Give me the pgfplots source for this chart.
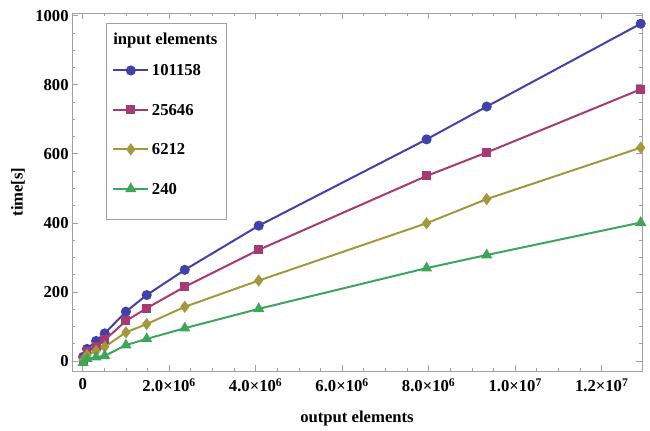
\documentclass[border=0pt]{standalone}
\usepackage{fontspec}
\setmainfont{Liberation Serif}
\usepackage{pgfplots}
\pgfplotsset{compat=1.18}

\definecolor{mBlue}{RGB}{64,66,170}
\definecolor{mMagenta}{RGB}{166,58,114}
\definecolor{mOlive}{RGB}{164,152,60}
\definecolor{mGreen}{RGB}{62,166,90}
\definecolor{frameGray}{RGB}{160,160,160}

\newcommand{\lblfont}{\fontsize{12.5}{14}\selectfont\bfseries}

\begin{document}
\begin{tikzpicture}
\path[use as bounding box] (-54pt,-44.25pt) rectangle (433.5pt,278.25pt);
\begin{axis}[
    scale only axis,
    width=427.5pt,
    height=268.5pt,
    xmin=-0.247e6, xmax=12.93e6,
    ymin=-29, ymax=1008,
    scaled x ticks=false,
    xtick={0,2e6,4e6,6e6,8e6,10e6,12e6},
    xticklabels={0, 2.0×10\textsuperscript{6}, 4.0×10\textsuperscript{6},
        6.0×10\textsuperscript{6}, 8.0×10\textsuperscript{6},
        1.0×10\textsuperscript{7}, 1.2×10\textsuperscript{7}},
    ytick={0,200,400,600,800,1000},
    minor x tick num=3,
    minor y tick num=3,
    tick align=inside,
    tick pos=both,
    major tick length=4.5pt,
    minor tick length=2.5pt,
    axis line style={frameGray, line width=0.6pt},
    every tick/.style={frameGray, line width=0.6pt},
    /pgf/number format/assume math mode=true,
    /pgf/number format/1000 sep={},
    tick label style={font=\lblfont},
    xticklabel style={yshift=-2pt},
    yticklabel style={xshift=1pt},
    xlabel={output elements},
    ylabel={time[s]},
    label style={font=\lblfont},
    xlabel style={at={(axis description cs:0.5,-0.1313)}, anchor=center},
    ylabel style={at={(axis description cs:-0.0947,0.5)}, anchor=center},
    legend cell align=left,
    legend image code/.code={
        \draw[yshift=4pt, mark repeat=2, mark phase=2]
            plot coordinates {(0cm,0cm) (0.46cm,0cm) (0.92cm,0cm)};
    },
    legend style={
        at={(0.0596,0.973)}, anchor=north west,
        draw=frameGray, line width=0.6pt, fill=white,
        font=\lblfont,
        inner xsep=4.5pt, inner ysep=1.55pt,
        row sep=8pt,
        cells={anchor=base west},
    },
    every axis plot/.append style={line width=1.5pt},
]

% legend title row
\addlegendimage{empty legend}
\addlegendentry{\hspace*{-29pt}\rule{0pt}{12.4pt}input elements}

\addplot[color=mBlue, mark=*, mark size=3pt] coordinates {
    (0.01e6,12) (0.1e6,35) (0.31e6,58) (0.51e6,80) (1.0e6,143)
    (1.48e6,191) (2.36e6,264) (4.07e6,392) (7.95e6,642) (9.34e6,737)
    (12.9e6,977)
};
\addlegendentry{\rule{0pt}{10.1pt}101158}

\addplot[color=mMagenta, mark=square*, mark size=2.6pt] coordinates {
    (0.01e6,5) (0.1e6,27) (0.31e6,43) (0.51e6,61) (1.0e6,116)
    (1.48e6,153) (2.36e6,215) (4.07e6,322) (7.95e6,536) (9.34e6,604)
    (12.9e6,787)
};
\addlegendentry{\rule{0pt}{16.1pt}25646}

\addplot[color=mOlive, mark=diamond*, mark size=3.4pt] coordinates {
    (0.01e6,2) (0.1e6,17) (0.31e6,29) (0.51e6,41) (1.0e6,83)
    (1.48e6,107) (2.36e6,157) (4.07e6,233) (7.95e6,399) (9.34e6,469)
    (12.9e6,618)
};
\addlegendentry{\rule{0pt}{16.1pt}6212}

\addplot[color=mGreen, mark=triangle*, mark size=3.4pt] coordinates {
    (0.01e6,-5) (0.1e6,6) (0.31e6,11) (0.51e6,15) (1.0e6,46)
    (1.48e6,64) (2.36e6,95) (4.07e6,151) (7.95e6,269) (9.34e6,307)
    (12.9e6,401)
};
\addlegendentry{\rule{0pt}{16.1pt}240}

% empty row for bottom padding of the legend box
\addlegendimage{empty legend}
\addlegendentry{\mbox{}}

\end{axis}
\end{tikzpicture}
\end{document}
